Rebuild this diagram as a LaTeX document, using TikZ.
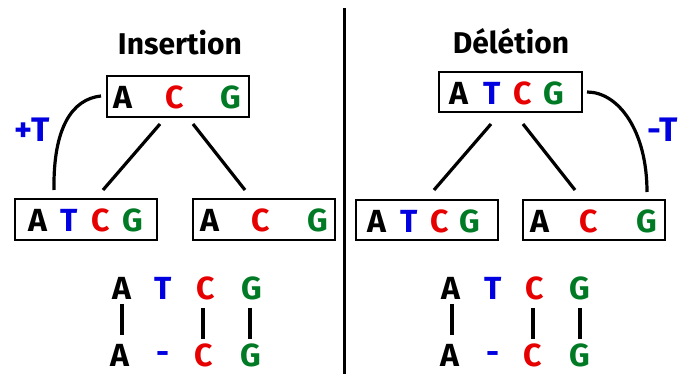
\documentclass[tikz,border=0pt]{standalone}
\usepackage{fontspec}
\setmainfont{Fira Sans}
\usetikzlibrary{calc}
\definecolor{dnared}{RGB}{230,0,0}
\definecolor{dnagreen}{RGB}{0,122,36}
\definecolor{dnablue}{RGB}{0,0,225}
\tikzset{
  title/.style={font=\fontsize{30}{30}\selectfont\bfseries, inner sep=0pt},
  base/.style={font=\fontsize{32}{32}\selectfont\bfseries, inner sep=0pt, anchor=center},
  bA/.style={base, text=black},
  bT/.style={base, text=dnablue},
  bC/.style={base, text=dnared},
  bG/.style={base, text=dnagreen},
  seqbox/.style={draw, line width=1.8pt, minimum width=142pt, minimum height=41pt, inner sep=0pt},
  conn/.style={line width=3.2pt},
  bar/.style={line width=3.2pt},
  mut/.style={font=\fontsize{34}{34}\selectfont\bfseries, text=dnablue, inner sep=0pt},
}
\begin{document}
\begin{tikzpicture}[x=1pt,y=-1pt]
\useasboundingbox (0,0) rectangle (681,374);
% divider
\coordinate (d1) at (344,8);
\coordinate (d2) at (344,380);
\draw[line width=3pt] (d1) -- (d2);
% titles
\node[title] (tins) at (180,43) {Insertion};
\node[title] (tdel) at (511,41) {Délétion};
% ---------- Insertion ----------
\node[seqbox] (boxTL) at (178,96.5) {};
\node[bA] (tl1) at (123,97) {A};
\node[bC] (tl2) at (175,97) {C};
\node[bG] (tl3) at (231,97) {G};
\node[seqbox] (boxBL1) at (86,219.5) {};
\node[bA] (l11) at (38,220) {A};
\node[bT] (l12) at (69,220) {T};
\node[bC] (l13) at (101,220) {C};
\node[bG] (l14) at (133,220) {G};
\node[seqbox] (boxBL2) at (264,219.5) {};
\node[bA] (l21) at (210,220) {A};
\node[bC] (l22) at (261,220) {C};
\node[bG] (l23) at (318,220) {G};
\coordinate (c1a) at (160,124); \coordinate (c1b) at (103,190);
\coordinate (c2a) at (193,124); \coordinate (c2b) at (245,190);
\draw[conn] (c1a) -- (c1b);
\draw[conn] (c2a) -- (c2b);
\coordinate (cu1a) at (101,96); \coordinate (cu1b) at (54,190);
\draw[conn] (cu1a) .. controls (72,99) and (53,128) .. (cu1b);
\node[mut] (plusT) at (32,130) {+T};
% alignment
\node[bA] (ia1) at (122,288) {A};
\node[bT] (ia2) at (163,288) {T};
\node[bC] (ia3) at (206,288) {C};
\node[bG] (ia4) at (252,288) {G};
\node[bA] (ib1) at (120,355) {A};
\node[bT] (ib2) at (163,358) {-};
\node[bC] (ib3) at (204,355) {C};
\node[bG] (ib4) at (251,355) {G};
\coordinate (ibar1a) at (122,304); \coordinate (ibar1b) at (122,335);
\coordinate (ibar3a) at (203,308); \coordinate (ibar3b) at (203,339);
\coordinate (ibar4a) at (250,308); \coordinate (ibar4b) at (250,339);
\draw[bar] (ibar1a) -- (ibar1b);
\draw[bar] (ibar3a) -- (ibar3b);
\draw[bar] (ibar4a) -- (ibar4b);
% ---------- Deletion ----------
\node[seqbox, minimum width=143pt, minimum height=40pt] (boxTR) at (510.5,92) {};
\node[bA] (tr1) at (459,93) {A};
\node[bT] (tr2) at (492,93) {T};
\node[bC] (tr3) at (523,93) {C};
\node[bG] (tr4) at (554,93) {G};
\node[seqbox, minimum height=40pt] (boxBR1) at (427,220) {};
\node[bA] (r11) at (377,221) {A};
\node[bT] (r12) at (409,221) {T};
\node[bC] (r13) at (440,221) {C};
\node[bG] (r14) at (470,221) {G};
\node[seqbox, minimum height=40pt] (boxBR2) at (594,220) {};
\node[bA] (r21) at (540,221) {A};
\node[bC] (r22) at (589,221) {C};
\node[bG] (r23) at (647,221) {G};
\coordinate (c3a) at (491,124); \coordinate (c3b) at (434,190);
\coordinate (c4a) at (523,124); \coordinate (c4b) at (575,190);
\draw[conn] (c3a) -- (c3b);
\draw[conn] (c4a) -- (c4b);
\coordinate (cu2a) at (587,92); \coordinate (cu2b) at (647,192);
\draw[conn] (cu2a) .. controls (618,92) and (647,130) .. (cu2b);
\node[mut, anchor=west] (minusT) at (647,130) {-T};
% alignment
\node[bA] (da1) at (451,288) {A};
\node[bT] (da2) at (493,288) {T};
\node[bC] (da3) at (535,288) {C};
\node[bG] (da4) at (580,288) {G};
\node[bA] (db1) at (450,355) {A};
\node[bT] (db2) at (493,358) {-};
\node[bC] (db3) at (533,355) {C};
\node[bG] (db4) at (580,355) {G};
\coordinate (dbar1a) at (452,304); \coordinate (dbar1b) at (452,335);
\coordinate (dbar3a) at (533,308); \coordinate (dbar3b) at (533,339);
\coordinate (dbar4a) at (580,308); \coordinate (dbar4b) at (580,339);
\draw[bar] (dbar1a) -- (dbar1b);
\draw[bar] (dbar3a) -- (dbar3b);
\draw[bar] (dbar4a) -- (dbar4b);
\end{tikzpicture}
\end{document}
